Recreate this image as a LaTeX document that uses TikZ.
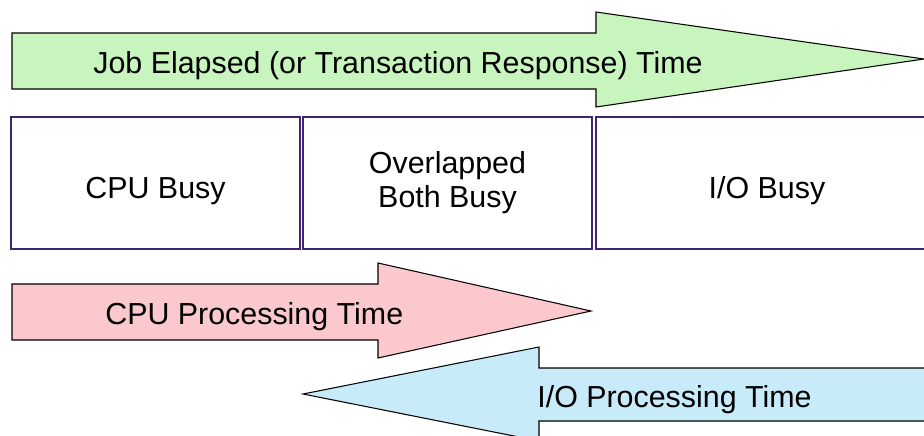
\documentclass[tikz,border=0pt]{standalone}
\usepackage{fontspec}
\setmainfont{Liberation Sans}
\usepackage{tikz}
\usetikzlibrary{positioning}
\definecolor{jobgreen}{RGB}{200, 245, 190}
\definecolor{cpured}{RGB}{250, 200, 205}
\definecolor{ioblue}{RGB}{200, 235, 250}
\definecolor{boxpurple}{RGB}{65, 35, 115}

\begin{document}
\begin{tikzpicture}[x=0.02cm, y=-0.02cm,
    arrowline/.style={draw=black, line width=0.6pt, line join=miter},
    busybox/.style={draw=boxpurple, line width=1.4pt, minimum height=2.64cm},
    timetext/.style={anchor=base west, inner sep=0pt}]
    \clip (0,0) rectangle (924,436);
    \useasboundingbox (0,0) rectangle (924,436);
    \fontsize{17.3}{19.5}\selectfont

    % gesamte Laufzeit
    \draw[arrowline, fill=jobgreen] (12,33) -- (596,33) -- (596,12) -- (924,59)
        -- (596,107) -- (596,89) -- (12,89) -- cycle;
    \node[timetext] (job) at (93,73) {Job Elapsed (or Transaction Response) Time};

    % Belegt-Bereiche
    \foreach \n/\x/\w/\s/\t in {cpubusy/155.5/5.78/-0.16/{CPU Busy},
                                bothbusy/447.5/5.78/0/{Overlapped\\Both Busy},
                                iobusy/767/6.84/-0.16/{I/O Busy}} {
        \node[busybox, minimum width=\w cm] (\n) at (\x,183) {};
        \node[align=center, yshift=\s cm] (\n text) at (\n) {\t};
    }

    % CPU-Zeit
    \draw[arrowline, fill=cpured] (12,284) -- (378,284) -- (378,263) -- (591,311)
        -- (378,358) -- (378,340) -- (12,340) -- cycle;
    \node[timetext] (cputime) at (105,324) {CPU Processing Time};

    % I/O-Zeit
    \draw[arrowline, fill=ioblue] (940,368) -- (539,368) -- (539,347) -- (303,394)
        -- (539,441) -- (539,421) -- (940,421) -- cycle;
    \node[timetext] (iotime) at (537,407) {I/O Processing Time};
\end{tikzpicture}
\end{document}
